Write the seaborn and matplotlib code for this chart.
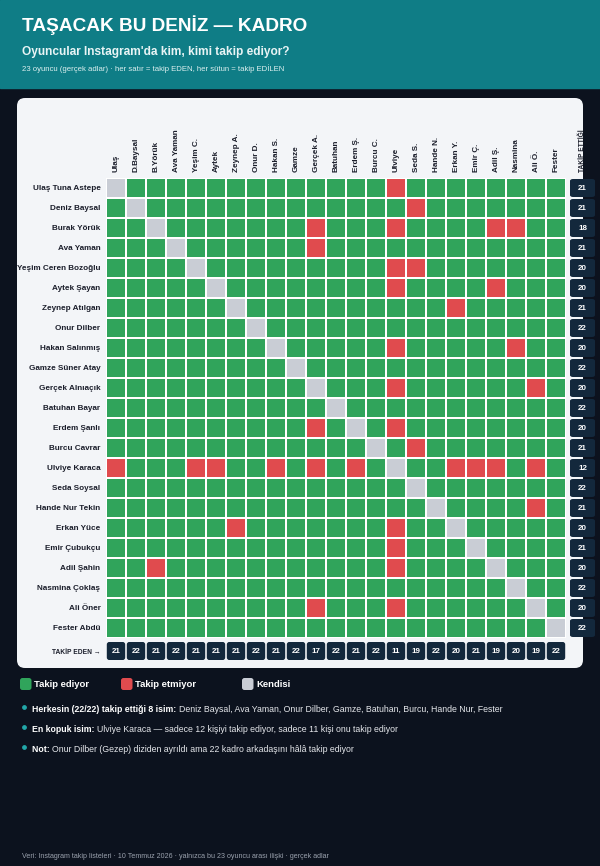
import numpy as np
import matplotlib.pyplot as plt
import seaborn as sns
from matplotlib.colors import ListedColormap
from matplotlib.patches import FancyBboxPatch, Rectangle

# ==========================
# DATA
# ==========================

full_names = ["Ulaş Tuna Astepe", "Deniz Baysal", "Burak Yörük", "Ava Yaman",
              "Yeşim Ceren Bozoğlu", "Aytek Şayan", "Zeynep Atılgan", "Onur Dilber",
              "Hakan Salınmış", "Gamze Süner Atay", "Gerçek Alnıaçık", "Batuhan Bayar",
              "Erdem Şanlı", "Burcu Cavrar", "Ulviye Karaca", "Seda Soysal",
              "Hande Nur Tekin", "Erkan Yüce", "Emir Çubukçu", "Adil Şahin",
              "Nasmina Çoklaş", "Ali Öner", "Fester Abdü"]

short_names = ["Ulaş", "D.Baysal", "B.Yörük", "Ava Yaman", "Yeşim C.", "Aytek",
               "Zeynep A.", "Onur D.", "Hakan S.", "Gamze", "Gerçek A.", "Batuhan",
               "Erdem Ş.", "Burcu C.", "Ulviye", "Seda S.", "Hande N.", "Erkan Y.",
               "Emir Ç.", "Adil Ş.", "Nasmina", "Ali Ö.", "Fester"]

# column indexes each row does NOT follow
not_following = [[14], [15], [10, 14, 19, 20], [10], [14, 15], [14, 19], [17], [],
                 [14, 20], [], [14, 21], [], [10, 14], [15],
                 [0, 4, 5, 8, 10, 12, 17, 18, 19, 21], [], [21], [6, 14], [14],
                 [2, 14], [], [10, 14], []]

legend_labels = ["Takip ediyor", "Takip etmiyor", "Kendisi"]

notes = [
    ("Herkesin (22/22) takip ettiği 8 isim: ",
     "Deniz Baysal, Ava Yaman, Onur Dilber, Gamze, Batuhan, Burcu, Hande Nur, Fester"),
    ("En kopuk isim: ",
     "Ulviye Karaca — sadece 12 kişiyi takip ediyor, sadece 11 kişi onu takip ediyor"),
    ("Not: ",
     "Onur Dilber (Gezep) diziden ayrıldı ama 22 kadro arkadaşını hâlâ takip ediyor"),
]

n = len(full_names)
matrix = np.ones((n, n))          # 1 = follows, 0 = not, 2 = self
for i, cols in enumerate(not_following):
    matrix[i, cols] = 0
np.fill_diagonal(matrix, 2)

follows_count = (matrix == 1).sum(axis=1)
followers_count = (matrix == 1).sum(axis=0)

# ==========================
# STYLE
# ==========================

GREEN = "#30a45b"
RED = "#e04b4e"
GREY = "#c9cdd5"
NAVY = "#13283c"
TEAL = "#0f7d86"
BG = "#0c121e"
CARD = "#f3f5f8"
INK = "#1b1e2b"

sns.set_theme(style="white")
plt.rcParams["font.family"] = ["Liberation Sans", "DejaVu Sans"]

W, H = 600, 866
fig = plt.figure(figsize=(W / 100, H / 100), dpi=100, facecolor=BG)


def px_axes(x0, y0, x1, y1):
    return fig.add_axes([x0 / W, 1 - y1 / H, (x1 - x0) / W, (y1 - y0) / H])


bg = px_axes(0, 0, W, H)
bg.set_xlim(0, W)
bg.set_ylim(H, 0)
bg.axis("off")
bg.add_patch(Rectangle((0, 0), W, 88, color=TEAL, zorder=0))
bg.add_patch(FancyBboxPatch((17, 98), 566, 570, boxstyle="round,pad=0,rounding_size=8",
                            facecolor=CARD, edgecolor="none", zorder=0))

# header
bg.text(22, 25, "TAŞACAK BU DENİZ — KADRO", color="white", fontsize=13.7,
        fontweight="bold", va="center")
bg.text(22, 52, "Oyuncular Instagram'da kim, kimi takip ediyor?", color="#e8f4f5",
        fontsize=8.55, fontweight="bold", va="center")
bg.text(22, 69, "23 oyuncu (gerçek adlar) · her satır = takip EDEN, her sütun = takip EDİLEN",
        color="#dcefef", fontsize=5.55, va="center")

# ==========================
# HEATMAP
# ==========================

hm = px_axes(106, 178, 566, 638)
sns.heatmap(matrix, ax=hm, cmap=ListedColormap([RED, GREEN, GREY]), vmin=-0.5, vmax=2.5,
            cbar=False, linewidths=1.4, linecolor="white",
            xticklabels=short_names, yticklabels=full_names)
hm.xaxis.tick_top()
hm.tick_params(length=0, pad=4)
hm.tick_params(axis="y", pad=4)
plt.setp(hm.get_xticklabels(), rotation=90, fontsize=5.9, fontweight="bold", color=INK)
plt.setp(hm.get_yticklabels(), rotation=0, fontsize=5.9, fontweight="bold", color=INK)

# row totals (TAKİP ETTİĞİ)
rc = px_axes(570, 178, 595, 638)
rc.set_xlim(0, 1)
rc.set_ylim(n, 0)
rc.axis("off")
for i, c in enumerate(follows_count):
    rc.add_patch(FancyBboxPatch((0, i + 0.05), 1, 0.9, boxstyle="round,pad=0,rounding_size=0.12",
                                mutation_aspect=0.8, facecolor=NAVY, edgecolor="none"))
    rc.text(0.5, i + 0.52, str(c), color="white", fontsize=5.8, fontweight="bold",
            ha="center", va="center")

# column totals (TAKİP EDEN)
cc = px_axes(106, 642, 566, 660)
cc.set_xlim(0, n)
cc.set_ylim(1, 0)
cc.axis("off")
for j, c in enumerate(followers_count):
    cc.add_patch(FancyBboxPatch((j + 0.04, 0), 0.92, 1, boxstyle="round,pad=0,rounding_size=0.12",
                                mutation_aspect=1.2, facecolor=NAVY, edgecolor="none"))
    cc.text(j + 0.5, 0.52, str(c), color="white", fontsize=5.8, fontweight="bold",
            ha="center", va="center")

bg.text(100, 652, "TAKİP EDEN →", color=INK, fontsize=4.8, fontweight="bold",
        ha="right", va="center")
bg.text(582, 172, "TAKİP ETTİĞİ", color=INK, fontsize=4.8, fontweight="bold",
        rotation=90, ha="center", va="bottom")

# ==========================
# LEGEND
# ==========================

legend_colors = [GREEN, RED, GREY]
legend_x = [20, 121, 242]
for x, col, lab in zip(legend_x, legend_colors, legend_labels):
    bg.add_patch(FancyBboxPatch((x, 678), 11.5, 12, boxstyle="round,pad=0,rounding_size=2.5",
                                facecolor=col, edgecolor="none"))
    bg.text(x + 14, 684.5, lab, color="white", fontsize=6.8, fontweight="bold", va="center")

# ==========================
# NOTES
# ==========================

renderer = fig.canvas.get_renderer()
for k, (bold_part, rest) in enumerate(notes):
    y = 709 + 20 * k
    bg.scatter([23.5], [y - 2.5], s=6, color="#22a7a9", zorder=3)
    t = bg.text(32, y, bold_part, color="white", fontsize=6.35, fontweight="bold", va="center")
    w = t.get_window_extent(renderer).width
    bg.text(32 + w, y, rest, color="#e5e7eb", fontsize=6.35, va="center")

bg.text(22, 857, "Veri: Instagram takip listeleri · 10 Temmuz 2026 · yalnızca bu 23 oyuncu arası ilişki · gerçek adlar",
        color="#9aa1ad", fontsize=5.15, va="center")

fig.savefig("out.png", dpi=100, facecolor=BG)
